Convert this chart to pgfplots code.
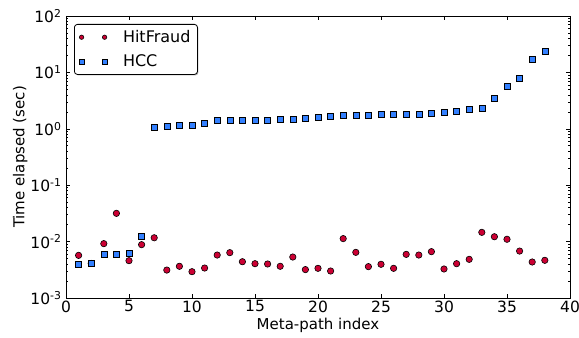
\documentclass[border=0pt]{standalone}
\usepackage{fontspec}
\setmainfont{DejaVu Sans}
\usepackage{pgfplots}
\usepackage{pgfplotstable}
\usetikzlibrary{shadows}
\pgfplotsset{compat=1.18}
\definecolor{hfred}{RGB}{204,0,51}
\definecolor{hccblue}{RGB}{51,128,255}

\pgfplotstableread{
x y
1 0.0057
2 0.0041
3 0.0092
4 0.0317
5 0.00459
6 0.00883
7 0.0117
8 0.00313
9 0.00365
10 0.00293
11 0.0034
12 0.00578
13 0.00637
14 0.0044
15 0.00406
16 0.00401
17 0.00365
18 0.00533
19 0.00319
20 0.00336
21 0.00301
22 0.0113
23 0.00645
24 0.0036
25 0.00396
26 0.00336
27 0.00594
28 0.00578
29 0.00664
30 0.00327
31 0.00406
32 0.00485
33 0.0146
34 0.0122
35 0.011
36 0.0068
37 0.00435
38 0.00466
}\hitfraud

\pgfplotstableread{
x y
1 0.00401
2 0.00412
3 0.00594
4 0.00594
5 0.0062
6 0.0122
7 1.08
8 1.11
9 1.15
10 1.17
11 1.27
12 1.41
13 1.41
14 1.43
15 1.43
16 1.43
17 1.49
18 1.49
19 1.51
20 1.57
21 1.64
22 1.73
23 1.73
24 1.76
25 1.78
26 1.78
27 1.78
28 1.80
29 1.88
30 1.96
31 2.04
32 2.21
33 2.31
34 3.42
35 5.74
36 7.96
37 17.3
38 23.9
}\hcc

\begin{document}
\begin{tikzpicture}
\begin{axis}[
  scale only axis,
  width=504pt, height=282pt,
  xmin=0, xmax=40,
  ymode=log, ymin=1e-3, ymax=1e2,
  xtick={0,5,...,40},
  ytick={1e-3,1e-2,1e-1,1,1e1,1e2},
  yticklabels={10\textsuperscript{-3},10\textsuperscript{-2},10\textsuperscript{-1},10\textsuperscript{0},10\textsuperscript{1},10\textsuperscript{2}},
  minor ytick={2e-3,3e-3,4e-3,5e-3,6e-3,7e-3,8e-3,9e-3,
               2e-2,3e-2,4e-2,5e-2,6e-2,7e-2,8e-2,9e-2,
               2e-1,3e-1,4e-1,5e-1,6e-1,7e-1,8e-1,9e-1,
               2,3,4,5,6,7,8,9,
               20,30,40,50,60,70,80,90},
  /pgf/number format/assume math mode=true,
  tick align=inside,
  xtick pos=both, ytick pos=both,
  major tick length=4pt, minor tick length=2pt,
  tick style={black, line width=0.6pt},
  axis line style={black, line width=0.8pt},
  tick label style={font=\fontsize{15.5}{17}\selectfont},
  xticklabel style={yshift=1pt},
  yticklabel style={xshift=-1pt},
  label style={font=\fontsize{15}{17}\selectfont},
  xlabel={Meta-path index},
  ylabel={Time elapsed (sec)},
  xlabel style={yshift=1.5pt},
  ylabel style={yshift=-4pt},
  legend style={at={(0,1)}, anchor=north west, xshift=8pt, yshift=-8pt,
    draw=black, line width=0.8pt, rounded corners=3pt,
    drop shadow={shadow xshift=1pt, shadow yshift=-1pt, fill=gray!70, opacity=0.8},
    fill=white,
    font=\fontsize{16}{18}\selectfont,
    inner xsep=5pt, inner ysep=4pt, row sep=7pt},
  legend cell align=left,
  legend image code/.code={\draw[#1, mark size=2.2pt] plot coordinates {(0pt,0pt) (23pt,0pt)}; \path (39pt,0pt);},
]
\addplot[only marks, mark=*, mark size=3.2pt, mark options={fill=hfred, draw=black, line width=0.6pt}] table {\hitfraud};
\addlegendentry{HitFraud}
\addplot[only marks, mark=square*, mark size=3pt, mark options={fill=hccblue, draw=black, line width=0.6pt}] table {\hcc};
\addlegendentry{HCC}
\end{axis}
\pgfresetboundingbox
\path (current axis.south west) ++(-66pt,-39pt);
\path (current axis.north east) ++(9pt,16pt);
\end{tikzpicture}
\end{document}
